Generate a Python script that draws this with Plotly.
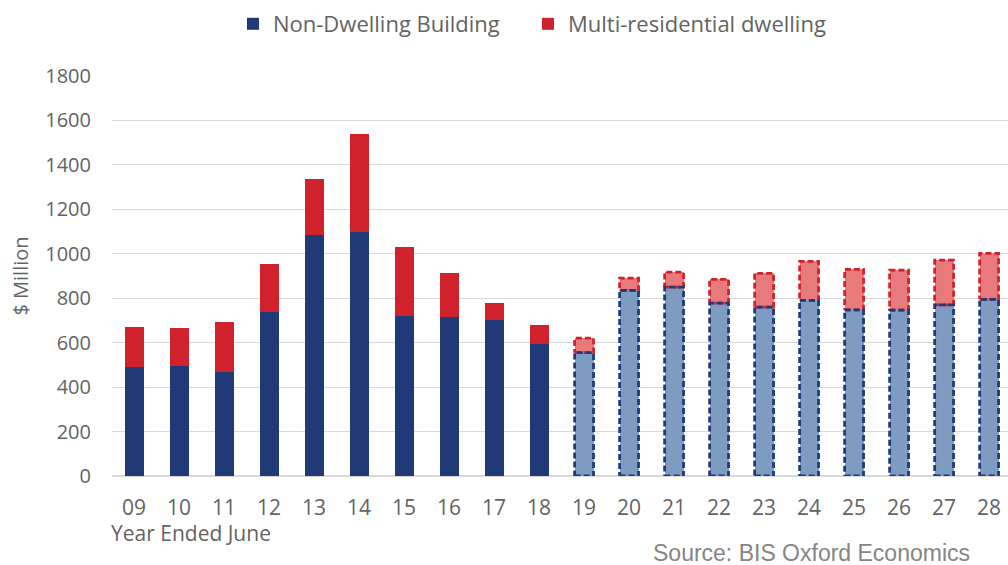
import plotly.graph_objects as go

years = ["09", "10", "11", "12", "13", "14", "15", "16", "17", "18",
         "19", "20", "21", "22", "23", "24", "25", "26", "27", "28"]
non_dwelling = [490, 495, 470, 740, 1085, 1100, 720, 715, 700, 595,
                555, 835, 850, 778, 760, 790, 748, 746, 770, 795]
multi_res = [180, 170, 225, 215, 250, 440, 310, 200, 80, 85,
             65, 55, 67, 107, 152, 176, 182, 180, 201, 207]
n_hist = 10  # 09-18 actual, 19-28 forecast

NAVY = "#1F3A76"
RED = "#D0222C"
LBLUE = "#7E9CC2"
LRED = "#E97A7C"
GRAY = "#636363"
FONT = "Open Sans"
BW = 0.42

L, R, T, B = 112, 0, 76, 89
PW, PH = 1008 - L - R, 565 - T - B

xs = list(range(len(years)))
hx, fx = xs[:n_hist], xs[n_hist:]

fig = go.Figure()
fig.add_bar(x=hx, y=non_dwelling[:n_hist], name="Non-Dwelling Building",
            marker=dict(color=NAVY, line=dict(width=0)), width=BW, legend="legend")
fig.add_bar(x=hx, y=multi_res[:n_hist], name="Multi-residential dwelling",
            marker=dict(color=RED, line=dict(width=0)), width=BW, legend="legend2")
fig.add_bar(x=fx, y=non_dwelling[n_hist:], showlegend=False,
            marker=dict(color=LBLUE, line=dict(width=0)), width=BW)
fig.add_bar(x=fx, y=multi_res[n_hist:], showlegend=False,
            marker=dict(color=LRED, line=dict(width=0)), width=BW)

# dashed outlines for forecast bars
def outline(bases, tops):
    ox, oy = [], []
    for x, b, t in zip(fx, bases, tops):
        l, r = x - BW / 2, x + BW / 2
        ox += [l, r, r, l, l, None]
        oy += [b, b, t, t, b, None]
    return ox, oy

nd_f = non_dwelling[n_hist:]
mr_f = multi_res[n_hist:]
tot_f = [a + b for a, b in zip(nd_f, mr_f)]
bx, by = outline([0] * len(nd_f), nd_f)
rx, ry = outline(nd_f, tot_f)
fig.add_scatter(x=rx, y=ry, mode="lines", showlegend=False, hoverinfo="skip",
                line=dict(color=RED, width=2.8, dash="6px,3px"))
fig.add_scatter(x=bx, y=by, mode="lines", showlegend=False, hoverinfo="skip",
                line=dict(color=NAVY, width=2.8, dash="6px,3px"))

leg_common = dict(orientation="h", xanchor="left", y=1 + (T - 24) / PH,
                  yanchor="middle", font=dict(size=22, color=GRAY), itemwidth=30,
                  bgcolor="rgba(0,0,0,0)")

fig.update_layout(
    width=1008, height=565,
    margin=dict(l=L, r=R, t=T, b=B, autoexpand=False),
    barmode="stack",
    plot_bgcolor="white", paper_bgcolor="white",
    font=dict(family=FONT, color=GRAY, size=20),
    legend=dict(x=(233 - L) / PW, **leg_common),
    legend2=dict(x=(528 - L) / PW, **leg_common),
    xaxis=dict(range=[-0.49, 19.42], tickmode="array", tickvals=xs, ticktext=years,
               showgrid=False, zeroline=False, showline=False, automargin=False,
               ticks="outside", ticklen=13, tickcolor="rgba(0,0,0,0)",
               tickfont=dict(size=21, color=GRAY)),
    yaxis=dict(range=[0, 1800], dtick=200, showgrid=True, gridcolor="#D9D9D9",
               gridwidth=1, zeroline=True, zerolinecolor="#D9D9D9", showline=False,
               automargin=False,
               ticks="outside", ticklen=16, tickcolor="rgba(0,0,0,0)",
               tickfont=dict(size=20, color=GRAY),
               title=dict(text="$ Million", font=dict(size=20, color=GRAY), standoff=11)),
)

fig.add_annotation(text="Year Ended June", xref="paper", yref="paper",
                   x=(109 - L) / PW, xanchor="left",
                   y=-(533 - (T + PH)) / PH, yanchor="middle", showarrow=False,
                   font=dict(size=21, color=GRAY))
fig.add_annotation(text="Source: BIS Oxford Economics", xref="paper", yref="paper",
                   x=(972 - L) / PW, xanchor="right",
                   y=-(553 - (T + PH)) / PH, yanchor="middle", showarrow=False,
                   font=dict(size=23, color="#858585", family="Liberation Sans"))

fig.write_html("out.html", config={"displayModeBar": False},
               post_script="document.body.style.margin='0px';")
